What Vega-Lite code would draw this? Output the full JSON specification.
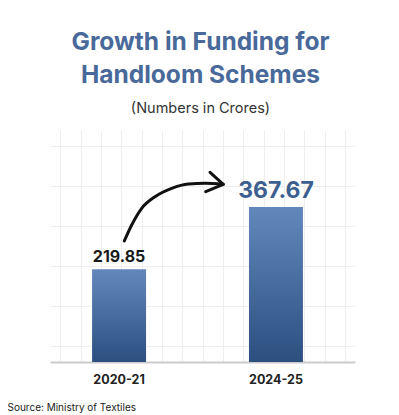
{
  "$schema": "https://vega.github.io/schema/vega-lite/v6.json",
  "width": 305,
  "height": 232,
  "autosize": {"type": "none"},
  "padding": {"left": 50, "top": 130, "right": 44, "bottom": 53},
  "background": "#ffffff",
  "config": {"view": {"stroke": null}, "font": "Inter"},
  "title": {
    "text": ["Growth in Funding for", "Handloom Schemes"],
    "subtitle": "(Numbers in Crores)",
    "fontSize": 24.5,
    "lineHeight": 33,
    "fontWeight": 700,
    "color": "#48699a",
    "font": "Inter",
    "subtitleFont": "Inter",
    "subtitleFontSize": 14.5,
    "subtitleColor": "#333333",
    "subtitlePadding": 13,
    "anchor": "middle",
    "dx": -2,
    "offset": 14
  },
  "datasets": {
    "funding": [
      {"year": "2020-21", "value": 219.85},
      {"year": "2024-25", "value": 367.67}
    ],
    "arrow": [
      {"part": "curve", "x": 14.62, "y": 286.9, "i": 0},
      {"part": "curve", "x": 16.07, "y": 324.8, "i": 1},
      {"part": "curve", "x": 18.04, "y": 364.4, "i": 2},
      {"part": "curve", "x": 20.66, "y": 391.9, "i": 3},
      {"part": "curve", "x": 23.94, "y": 411.8, "i": 4},
      {"part": "curve", "x": 27.21, "y": 422.0, "i": 5},
      {"part": "curve", "x": 30.49, "y": 423.6, "i": 6},
      {"part": "curve", "x": 34.09, "y": 421.3, "i": 7},
      {"part": "head", "x": 31.48, "y": 449.7, "i": 0},
      {"part": "head", "x": 34.09, "y": 421.3, "i": 1},
      {"part": "head", "x": 30.63, "y": 403.7, "i": 2}
    ]
  },
  "layer": [
    {
      "data": {"name": "funding"},
      "encoding": {
        "x": {
          "field": "year",
          "type": "nominal",
          "sort": null,
          "scale": {"paddingInner": 0.656, "paddingOuter": 0.3, "align": 0.447},
          "axis": {
            "labelAngle": 0,
            "labelFontSize": 12.5,
            "labelFontWeight": 700,
            "labelColor": "#222222",
            "labelPadding": 11,
            "ticks": false,
            "domainColor": "#cccccc",
            "domainWidth": 2,
            "title": "Source: Ministry of Textiles",
            "titleFontSize": 10,
            "titleFontWeight": 400,
            "titleColor": "#222222",
            "titleAlign": "left",
            "titleAnchor": "start",
            "titleBaseline": "alphabetic",
            "titleX": -43,
            "titleY": 48
          }
        },
        "y": {
          "field": "value",
          "type": "quantitative",
          "scale": {"domain": [0, 550], "nice": false},
          "axis": {
            "labels": false,
            "ticks": false,
            "domain": false,
            "title": null,
            "grid": true,
            "gridColor": "#eeeeee",
            "gridWidth": 1,
            "values": [38, 85, 133, 180, 228, 275, 322, 370, 417, 465, 512]
          }
        }
      },
      "layer": [
        {
          "mark": {
            "type": "bar",
            "fill": {
              "gradient": "linear",
              "x1": 0, "y1": 0, "x2": 0, "y2": 1,
              "stops": [
                {"offset": 0, "color": "#6288bb"},
                {"offset": 1, "color": "#2c4f80"}
              ]
            }
          }
        },
        {
          "mark": {"type": "text", "baseline": "bottom", "dy": -4, "fontWeight": 700, "font": "Inter"},
          "encoding": {
            "text": {"field": "value", "type": "quantitative", "format": ".2f"},
            "color": {
              "condition": {"test": "datum.year === '2024-25'", "value": "#3d5f90"},
              "value": "#1a1a1a"
            },
            "size": {
              "condition": {"test": "datum.year === '2024-25'", "value": 23},
              "value": 16
            }
          }
        }
      ]
    },
    {
      "data": {"name": "arrow"},
      "encoding": {
        "x": {
          "field": "x",
          "type": "quantitative",
          "scale": {"domain": [0, 60], "nice": false, "zero": false},
          "axis": {
            "orient": "top",
            "labels": false,
            "ticks": false,
            "domain": false,
            "title": null,
            "grid": true,
            "gridColor": "#eeeeee",
            "values": [2, 6, 10, 14, 18, 22, 26, 30, 34, 38, 42, 46, 50, 54, 58]
          }
        },
        "y": {"field": "y", "type": "quantitative"},
        "order": {"field": "i", "type": "quantitative"}
      },
      "layer": [
        {
          "transform": [{"filter": "datum.part === 'curve'"}],
          "mark": {"type": "line", "interpolate": "monotone", "color": "#111111", "strokeWidth": 3, "strokeCap": "round"}
        },
        {
          "transform": [{"filter": "datum.part === 'head'"}],
          "mark": {"type": "line", "interpolate": "linear", "color": "#111111", "strokeWidth": 3, "strokeCap": "round", "strokeJoin": "round"}
        }
      ]
    }
  ],
  "resolve": {"scale": {"x": "independent"}, "axis": {"x": "independent"}}
}
